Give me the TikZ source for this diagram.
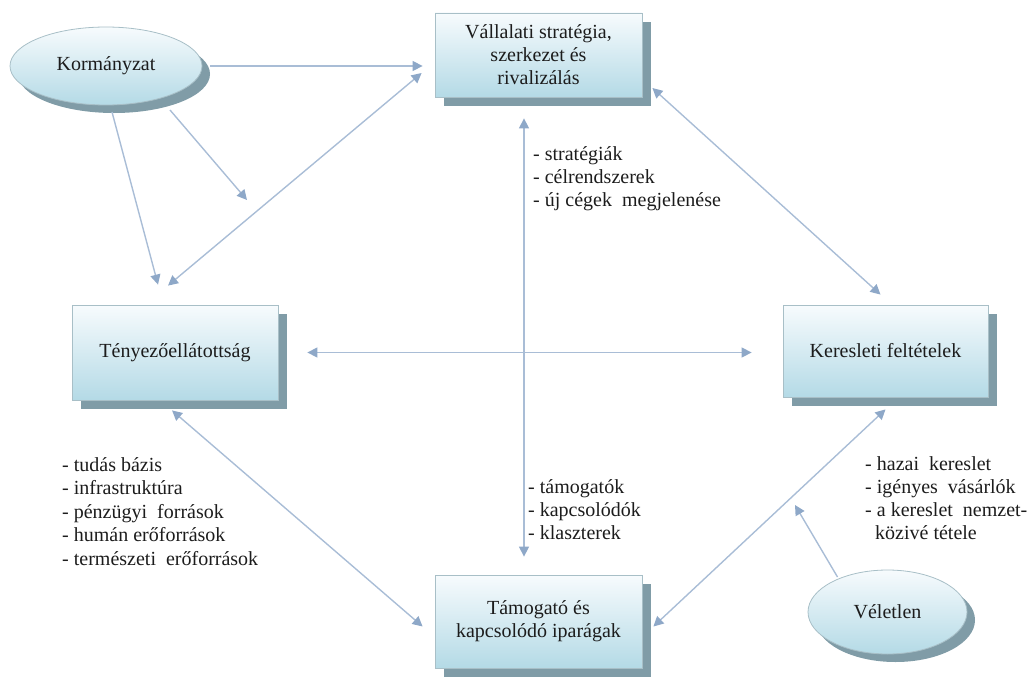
\documentclass[tikz,border=0pt]{standalone}
\usepackage{fontspec}
\setmainfont{Liberation Serif}
\usetikzlibrary{shapes.geometric,shadows,arrows.meta}

\definecolor{linec}{HTML}{A9BDD6}
\definecolor{tipc}{HTML}{8EA8C8}
\definecolor{boxtop}{HTML}{F7FBFD}
\definecolor{boxbot}{HTML}{B4DAE6}
\definecolor{boxline}{HTML}{A8BFC7}
\definecolor{shadowc}{HTML}{809CA7}
\definecolor{txt}{HTML}{1C1C1C}

\tikzset{
  labelfont/.style={font=\fontsize{20}{23}\selectfont, text=txt},
  factor/.style={rectangle, draw=boxline, line width=0.8pt,
    top color=boxtop, bottom color=boxbot, align=center, inner sep=0pt,
    labelfont,
    drop shadow={shadow xshift=9pt, shadow yshift=-9pt, fill=shadowc, opacity=1}},
  outer/.style={ellipse, draw=boxline, line width=0.8pt,
    top color=boxtop, bottom color=boxbot, inner sep=0pt, labelfont,
    drop shadow={shadow xshift=8pt, shadow yshift=-8pt, fill=shadowc, opacity=1}},
  tip/.tip={Triangle[length=10pt, width=10pt, color=tipc, fill=tipc]},
  link/.style={draw=linec, line width=1.4pt, -tip},
  both/.style={draw=linec, line width=1.4pt, tip-tip},
  % lists are placed by the baseline of their last line
  bullets/.style={anchor=base west, align=left, inner sep=0pt, labelfont}
}

\begin{document}
\begin{tikzpicture}[x=1pt, y=-1pt]
\useasboundingbox (0,0) rectangle (1027,677);

% the four determinants
\node[factor, minimum width=207pt, minimum height=84pt] (strat) at (538.5,55)
  {Vállalati stratégia,\\ szerkezet és\\ rivalizálás};
\node[factor, minimum width=206pt, minimum height=95pt] (ten) at (175,352.5)
  {Tényezőellátottság};
\node[factor, minimum width=205pt, minimum height=92pt] (ker) at (885.5,351)
  {Keresleti feltételek};
\node[factor, minimum width=207pt, minimum height=93pt] (tam) at (538.5,621.5)
  {Támogató és\\ kapcsolódó iparágak};

% outside influences
\node[outer, minimum width=192pt, minimum height=78pt] (korm) at (106,66) {Kormányzat};
\node[outer, minimum width=159pt, minimum height=84pt] (vel) at (887.5,612) {Véletlen};

% free arrow ends
\coordinate (kormtip) at (247,200);
\coordinate (veltip) at (795,505);

% government influences
\draw[link, shorten <=8pt, shorten >=12pt] (korm.east) -- (korm.east -| strat.west);
\draw[link] ([shift={(64,44)}]korm.center) -- (kormtip);
\draw[link] ([shift={(6,46)}]korm.center) -- ([shift={(-17,-20)}]ten.north);

% links between the determinants
\draw[both] ([shift={(-7,-19)}]ten.north) -- ([shift={(-13,18)}]strat.west);
\draw[both] ([shift={(10,33)}]strat.east) -- ([shift={(-5,-10)}]ker.north);
\draw[both, shorten <=29pt, shorten >=31pt] (ten.east) -- (ten.east -| ker.west);
\draw[both, shorten <=21pt, shorten >=18pt] ([xshift=-14.5]strat.south) -- ([xshift=-14.5]tam.north);
\draw[both] ([shift={(-3,10)}]ten.south) -- ([shift={(-12,5)}]tam.west);
\draw[both] ([shift={(0,12)}]ker.south) -- ([shift={(11,5)}]tam.east);

% chance
\draw[link] ([shift={(-50,-35)}]vel.center) -- (veltip);

% lists of factors
\node[bullets] (l1) at (533,206) {- stratégiák\\- célrendszerek\\- új cégek\ \ megjelenése};
\node[bullets] (l2) at (528,539) {- támogatók\\- kapcsolódók\\- klaszterek};
\node[bullets, font=\fontsize{20}{23.5}\selectfont] (l3) at (62,565)
  {- tudás bázis\\- infrastruktúra\\- pénzügyi\ \ források\\- humán erőforrások\\- természeti\ \ erőforrások};
\node[bullets] (l4) at (865,539) {- hazai\ \ kereslet\\- igényes\ \ vásárlók\\- a kereslet\ \ nemzet-\\\hspace*{0.5em}közivé tétele};
\end{tikzpicture}
\end{document}
